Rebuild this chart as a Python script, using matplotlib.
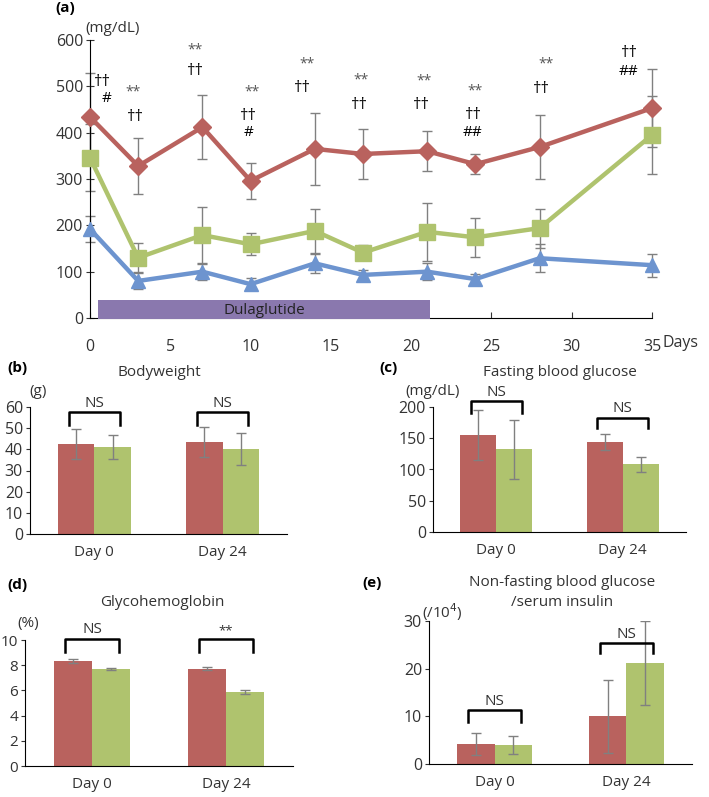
import matplotlib
matplotlib.use("Agg")
from matplotlib import pyplot as plt

plt.rcParams['font.family'] = ['Open Sans', 'DejaVu Sans']

W, H = 709, 797

# panel (a): blood glucose time course
days = [0, 3, 7, 10, 14, 17, 21, 24, 28, 35]
red_mean = [434, 328, 412, 296, 365, 354, 360, 332, 369, 453]
red_sd = [95, 61, 69, 39, 78, 53, 43, 22, 70, 84]
green_mean = [346, 130, 179, 159, 188, 141, 186, 174, 194, 395]
green_sd = [72, 31, 60, 24, 47, 16, 62, 42, 42, 85]
blue_mean = [192, 80, 100, 73, 118, 93, 100, 84, 129, 114]
blue_sd = [28, 17, 17, 13, 20, 10, 18, 10, 30, 25]

# significance marks: (day, value, text)
marks = [
    (0.8, 509, '††'), (1.05, 473, '#'),
    (2.7, 488, '**'), (2.8, 434, '††'),
    (6.55, 578, '**'), (6.55, 533, '††'),
    (10.1, 488, '**'), (9.85, 436, '††'), (9.9, 400, '#'),
    (13.5, 548, '**'), (13.25, 496, '††'),
    (16.9, 514, '**'), (16.75, 460, '††'),
    (20.8, 512, '**'), (20.65, 460, '††'),
    (24.0, 490, '**'), (23.85, 438, '††'), (23.85, 400, '##'),
    (28.4, 548, '**'), (28.1, 494, '††'),
    (33.6, 572, '††'), (33.55, 533, '##'),
]

groups = ['Day 0', 'Day 24']
bw_red, bw_red_sd = [42.5, 43.4], [7.0, 7.2]
bw_green, bw_green_sd = [41.0, 40.0], [5.6, 7.5]
fbg_red, fbg_red_sd = [155, 144], [40, 13]
fbg_green, fbg_green_sd = [132, 108], [47, 12]
hb_red, hb_red_sd = [8.33, 7.7], [0.16, 0.12]
hb_green, hb_green_sd = [7.7, 5.87], [0.08, 0.16]
ins_red, ins_red_sd = [4.2, 10.0], [2.4, 7.7]
ins_green, ins_green_sd = [4.0, 21.2], [1.8, 8.8]

RED = '#B9625E'
GREEN = '#AFC36E'
BLUE = '#6D94CF'
PURPLE = '#8A78AE'
ERR = '#808080'
TXT = '#333333'


def fx(x):
    return x / W


def fy(y):
    return 1 - y / H


fig = plt.figure(figsize=(W / 100, H / 100), dpi=100)

# ---------- (a)
ax = fig.add_axes([fx(90), fy(318), fx(652) - fx(90), fy(40) - fy(318)])
for mean, sd, col, mk, ms in [(red_mean, red_sd, RED, 'D', 9),
                              (green_mean, green_sd, GREEN, 's', 11),
                              (blue_mean, blue_sd, BLUE, '^', 10)]:
    ax.errorbar(days, mean, yerr=sd, fmt='none', ecolor=ERR, elinewidth=1,
                capsize=3.5, capthick=1, zorder=2, clip_on=False)
    ax.plot(days, mean, color=col, lw=3.2, marker=mk, ms=ms, zorder=3,
            clip_on=False)
ax.barh(17.5, 20.7, left=0.5, height=41, color=PURPLE, zorder=4, clip_on=False)
ax.text(10.85, 16, 'Dulaglutide', ha='center', va='center', fontsize=11,
        color='#222222', zorder=5)
for x, y, t in marks:
    if t == '**':
        ax.text(x, y, t, ha='center', va='center', fontsize=10, color='#555555')
    elif t == '††':
        ax.text(x, y, t, ha='center', va='center', fontsize=12, color='black')
    else:
        ax.text(x, y, t, ha='center', va='center', fontsize=11, color='black')
ax.set_xlim(0, 35)
ax.set_ylim(0, 600)
ax.set_xticks([0, 5, 10, 15, 20, 25, 30, 35])
ax.set_yticks([0, 100, 200, 300, 400, 500, 600])
for s in ['top', 'right']:
    ax.spines[s].set_visible(False)
ax.tick_params(axis='x', direction='in', length=4, labelsize=11.5, colors=TXT,
               pad=15)
ax.tick_params(axis='y', direction='inout', length=6, labelsize=11.5,
               colors=TXT, pad=2)
fig.text(fx(680), fy(343), 'Days', ha='center', va='center', fontsize=11.5,
         color=TXT)
fig.text(fx(113), fy(29), '(mg/dL)', ha='center', va='center', fontsize=11,
         color=TXT)
fig.text(fx(65), fy(8), '(a)', ha='center', va='center', fontsize=11,
         fontweight='bold')


def bar_panel(rect, red, red_sd, green, green_sd, ylim, yticks, brackets,
              ysize=11.5):
    a = fig.add_axes(rect)
    w = 0.285
    xs = range(len(groups))
    a.bar([i - w / 2 for i in xs], red, w, color=RED, zorder=2)
    a.bar([i + w / 2 for i in xs], green, w, color=GREEN, zorder=2)
    a.errorbar([i - w / 2 for i in xs], red, yerr=red_sd, fmt='none',
               ecolor=ERR, elinewidth=1, capsize=3.5, zorder=3)
    a.errorbar([i + w / 2 for i in xs], green, yerr=green_sd, fmt='none',
               ecolor=ERR, elinewidth=1, capsize=3.5, zorder=3)
    for i, (top, tip, lab) in enumerate(brackets):
        a.plot([i - 0.2, i - 0.2, i + 0.2, i + 0.2], [tip, top, top, tip],
               color='black', lw=1.8, clip_on=False, zorder=4)
        a.annotate(lab, (i, top), xytext=(0, 1), textcoords='offset points',
                   ha='center', va='bottom', fontsize=11 if lab == 'NS' else 9.5,
                   color=TXT, annotation_clip=False)
    a.set_xlim(-0.5, 1.5)
    a.set_ylim(*ylim)
    a.set_yticks(yticks)
    a.set_xticks(list(xs))
    a.set_xticklabels(groups)
    for s in ['top', 'right']:
        a.spines[s].set_visible(False)
    a.tick_params(axis='y', direction='out', length=3, labelsize=ysize,
                  colors=TXT, pad=2)
    a.tick_params(axis='x', length=0, labelsize=11, colors=TXT, pad=8)
    return a


bar_panel([fx(30), fy(534), fx(287) - fx(30), fy(407) - fy(534)],
          bw_red, bw_red_sd, bw_green, bw_green_sd, (0, 60),
          [0, 10, 20, 30, 40, 50, 60],
          [(57.5, 51.4, 'NS'), (57.5, 51.4, 'NS')])
bar_panel([fx(433), fy(532), fx(686) - fx(433), fy(407) - fy(532)],
          fbg_red, fbg_red_sd, fbg_green, fbg_green_sd, (0, 200),
          [0, 50, 100, 150, 200],
          [(209, 190, 'NS'), (183, 166, 'NS')])
bar_panel([fx(25), fy(766), fx(293) - fx(25), fy(640) - fy(766)],
          hb_red, hb_red_sd, hb_green, hb_green_sd, (0, 10),
          [0, 2, 4, 6, 8, 10],
          [(10.1, 9.05, 'NS'), (10.1, 9.05, '**')], ysize=11)
bar_panel([fx(429), fy(764), fx(692) - fx(429), fy(621) - fy(764)],
          ins_red, ins_red_sd, ins_green, ins_green_sd, (0, 30),
          [0, 10, 20, 30],
          [(11.3, 8.8, 'NS'), (25.4, 23.3, 'NS')])

# panel letters, titles and units
for x, y, t in [(17, 368, '(b)'), (388, 368, '(c)'), (17, 585, '(d)'),
                (372, 583, '(e)')]:
    fig.text(fx(x), fy(y), t, ha='center', va='center', fontsize=11,
             fontweight='bold')
for x, y, t in [(159, 372, 'Bodyweight'), (560, 373, 'Fasting blood glucose'),
                (162, 602, 'Glycohemoglobin'),
                (562, 582, 'Non-fasting blood glucose'),
                (562, 602, '/serum insulin')]:
    fig.text(fx(x), fy(y), t, ha='center', va='center', fontsize=11, color=TXT)
for x, y, t in [(38, 392, '(g)'), (433, 392, '(mg/dL)'), (28, 623, '(%)'),
                (442, 612, '(/10$^4$)')]:
    fig.text(fx(x), fy(y), t, ha='center', va='center', fontsize=11,
             color=TXT)

fig.savefig('out.png', dpi=100)
